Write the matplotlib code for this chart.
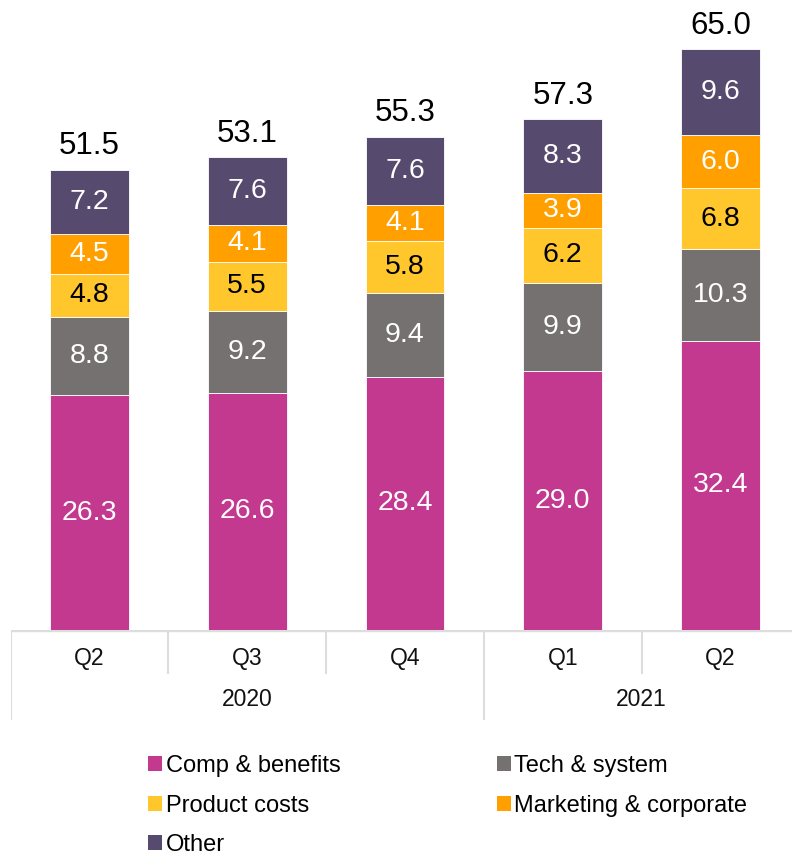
import numpy as np
import matplotlib.pyplot as plt
from matplotlib.patches import Patch

plt.rcParams['font.family'] = ['Liberation Sans', 'DejaVu Sans']

# Dados por trimestre (de baixo para cima)
quarters = ["Q2", "Q3", "Q4", "Q1", "Q2"]
years = ["2020", "2021"]
year_spans = [(0, 2), (3, 4)]
series_names = ["Comp & benefits", "Tech & system", "Product costs",
                "Marketing & corporate", "Other"]
comp = [26.3, 26.6, 28.4, 29.0, 32.4]
tech = [8.8, 9.2, 9.4, 9.9, 10.3]
product = [4.8, 5.5, 5.8, 6.2, 6.8]
marketing = [4.5, 4.1, 4.1, 3.9, 6.0]
other = [7.2, 7.6, 7.6, 8.3, 9.6]
totals = [51.5, 53.1, 55.3, 57.3, 65.0]

cores = ["#C3398F", "#757170", "#FFC72C", "#FFA000", "#574A6F"]
cor_texto = ["white", "white", "black", "white", "white"]

W, H = 792, 857
fig = plt.figure(figsize=(W / 100, H / 100), dpi=100)

# Eixo principal: base em y=630 px
left = 10.6 / W
ax = fig.add_axes([left, (H - 630) / H, 1 - left, 630 / H])
x = np.arange(len(quarters))
ax.set_xlim(-0.5, -0.5 + (W - 10.6) / 157.75)
ax.set_ylim(0, 630 / 8.92)

bottom = np.zeros(len(quarters))
for valores, cor, ct, nome in zip([comp, tech, product, marketing, other],
                                  cores, cor_texto, series_names):
    valores = np.array(valores)
    barras = ax.bar(x, valores, width=0.5, bottom=bottom, color=cor,
                    edgecolor="white", linewidth=0.6, label=nome)
    ax.bar_label(barras, labels=[f"{v:.1f}" for v in valores],
                 label_type="center", color=ct, fontsize=20.5)
    bottom += valores

for xi, b, t in zip(x, bottom, totals):
    ax.annotate(f"{t:.1f}", (xi, b), xytext=(0, 6), textcoords="offset points",
                ha="center", va="bottom", fontsize=22.5, color="black")

ax.axis("off")

# Tabela de categorias por baixo do eixo
ax2 = fig.add_axes([left, (H - 720) / H, 1 - left, 90 / H])
ax2.set_xlim(ax.get_xlim())
ax2.set_ylim(90, 0)
ax2.axis("off")
linha = "#DDDDDD"
ax2.axhline(0, color=linha, lw=2.5)
limites_ano = {-0.5} | {s[1] + 0.5 for s in year_spans}
for b in np.arange(-0.5, len(quarters), 1.0):
    y_fim = 90 if b in limites_ano else 44
    ax2.vlines(b, 0, y_fim, color=linha, lw=1.5)
for xi, q in zip(x, quarters):
    ax2.text(xi, 28, q, ha="center", va="center", fontsize=16.5, color="#111111")
for ano, (a, b) in zip(years, year_spans):
    ax2.text((a + b) / 2, 70, ano, ha="center", va="center", fontsize=16.5,
             color="#111111")

# Legenda
handles = [Patch(facecolor=c, label=n) for c, n in zip(cores, series_names)]
ordem = [0, 2, 4, 1, 3]
fig.legend([handles[i] for i in ordem], [series_names[i] for i in ordem],
           ncol=2, loc="upper left", bbox_to_anchor=(127 / W, 1 - 734 / H),
           frameon=False, fontsize=17, handlelength=0.6, handleheight=0.6,
           handletextpad=0.15, columnspacing=6.6, labelspacing=0.74)

plt.savefig("out.png", dpi=100)
